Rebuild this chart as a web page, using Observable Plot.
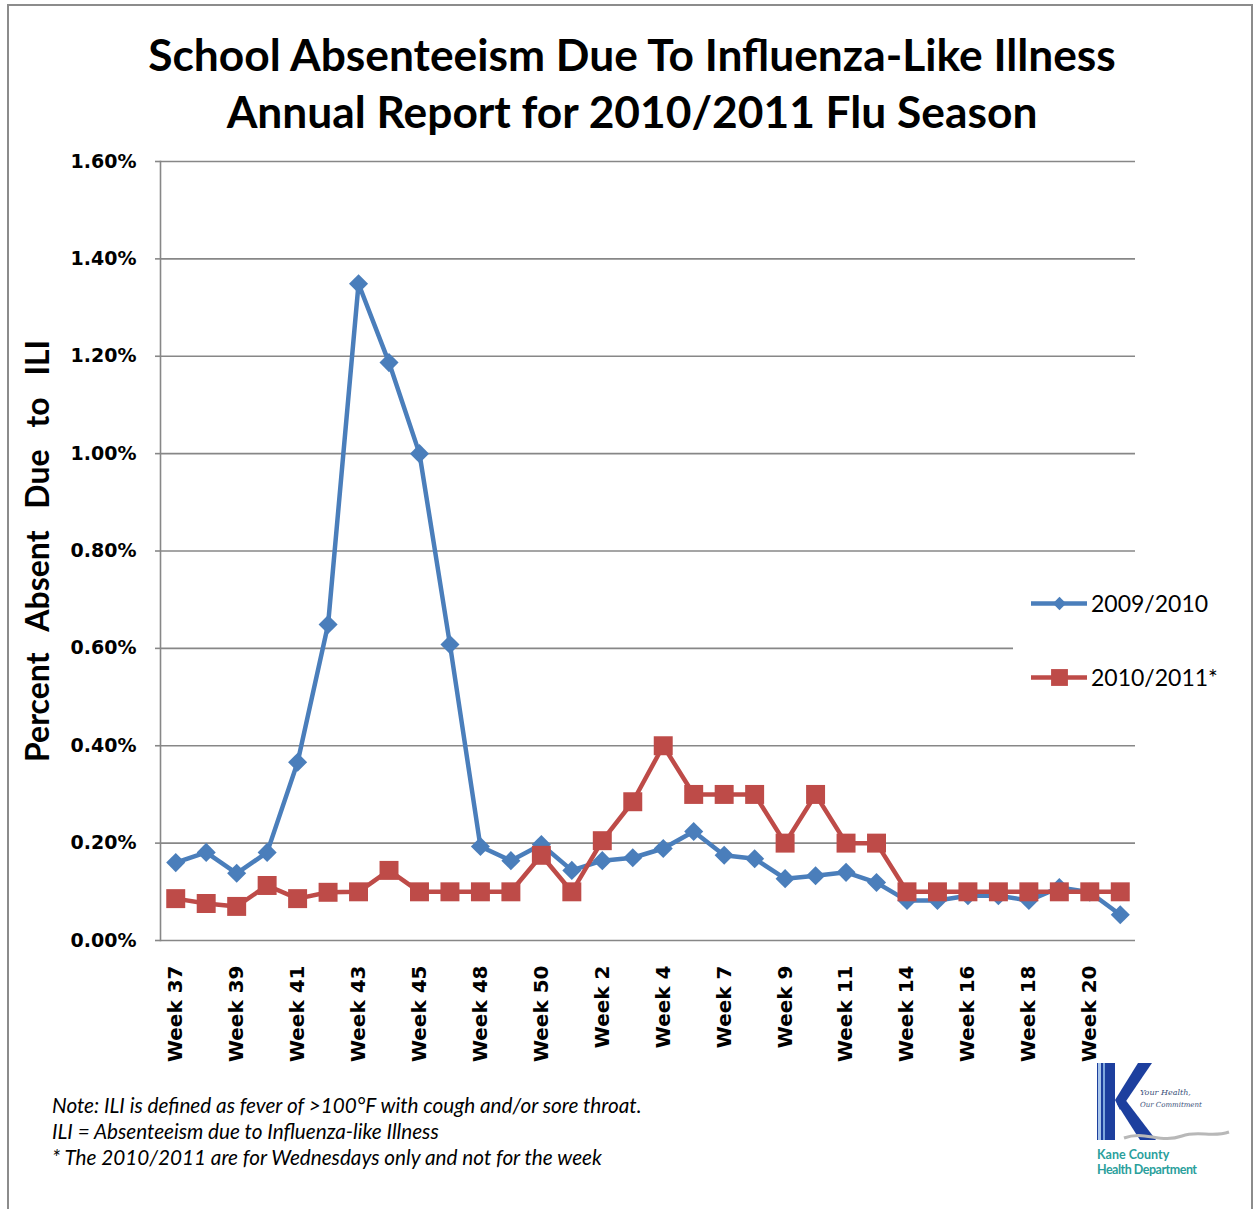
<!DOCTYPE html>
<html>
<head>
<meta charset="utf-8">
<script src="https://cdn.jsdelivr.net/npm/d3@7"></script>
<script src="https://cdn.jsdelivr.net/npm/@observablehq/plot@0.6"></script>
<style>
  html, body { margin: 0; padding: 0; background: #fff; }
  #page { position: relative; width: 1255px; height: 1209px; overflow: hidden; background: #fff; }
  #border { position: absolute; left: 7px; top: 4px; width: 1246px; height: 1300px; border: 2px solid #8c8c8c; box-sizing: border-box; }
  .title { position: absolute; left: 0; width: 1264px; text-align: center; font-family: Lato, sans-serif; font-weight: 700; color: #000; line-height: 1; white-space: nowrap; }
  #chart { position: absolute; left: 0; top: 140px; }
  #ytitle { position: absolute; font-family: Lato, sans-serif; font-weight: 700; font-size: 32px; line-height: 1; white-space: nowrap; transform-origin: 0 0; }
  #legend { position: absolute; left: 1013px; top: 566px; width: 232px; height: 150px; background: #fff; }
  .lrow { position: absolute; left: 18px; height: 30px; display: flex; align-items: center; font-family: Lato, sans-serif; font-size: 23px; color: #000; white-space: nowrap; }
  .lrow svg { margin-right: 4px; }
  .note { position: absolute; left: 52px; font-family: Lato, sans-serif; font-style: italic; font-size: 17px; line-height: 1; white-space: nowrap; color: #000; }
  #logo { position: absolute; left: 1090px; top: 1058px; }
</style>
</head>
<body>
<div id="page">
  <div id="border"></div>
  <div class="title" id="t1">School Absenteeism Due To Influenza-Like Illness</div>
  <div class="title" id="t2">Annual Report for 2010/2011 Flu Season</div>
  <div id="chart"></div>
  <div id="ytitle">Percent Absent Due to ILI</div>
  <div id="legend"></div>
  <div class="note" id="n1">Note: ILI is defined as fever of &gt;100°F with cough and/or sore throat.</div>
  <div class="note" id="n2">ILI = Absenteeism due to Influenza-like Illness</div>
  <div class="note" id="n3">* The 2010/2011 are for Wednesdays only and not for the week</div>
  <svg id="logo" width="150" height="125" viewBox="0 0 150 125">
    <rect x="7" y="5" width="18" height="77" fill="#1d3f9e"/>
    <rect x="8" y="5" width="3" height="77" fill="#a9c6ea"/>
    <rect x="13" y="5" width="2" height="77" fill="#7fa8de"/>
    <polygon points="25,42 48,5 62,5 30,52" fill="#1d3f9e"/>
    <polygon points="27,46 34,40 66,82 50,82" fill="#1d3f9e"/>
    <text x="50" y="37" font-family="DejaVu Serif" font-style="italic" font-size="8" fill="#3a4f7a">Your Health,</text>
    <text x="50" y="49" font-family="DejaVu Serif" font-style="italic" font-size="7" fill="#3a4f7a">Our Commitment</text>
    <path d="M34,80 C55,72 70,86 92,78 C108,72 122,80 139,74" fill="none" stroke="#b8b8b8" stroke-width="3"/>
    <text x="7" y="101" font-family="Lato" font-weight="700" font-size="12.5" fill="#2a9f9c">Kane County</text>
    <text x="7" y="116" font-family="Lato" font-weight="700" font-size="12.5" fill="#2a9f9c" textLength="100">Health Department</text>
  </svg>
</div>
<script>
// ---- data ----
const weeks = ["Week 37","Week 38","Week 39","Week 40","Week 41","Week 42","Week 43","Week 44","Week 45","Week 46",
  "Week 48","Week 49","Week 50","Week 51","Week 2","Week 3","Week 4","Week 5","Week 7","Week 8","Week 9","Week 10",
  "Week 11","Week 12","Week 14","Week 15","Week 16","Week 17","Week 18","Week 19","Week 20","Week 21"];
const season2009 = [0.160,0.181,0.138,0.181,0.366,0.649,1.349,1.187,1.000,0.608,
  0.193,0.164,0.197,0.144,0.164,0.170,0.189,0.224,0.175,0.168,0.127,0.133,
  0.140,0.119,0.082,0.082,0.092,0.092,0.082,0.109,0.099,0.053];
const season2010 = [0.086,0.076,0.070,0.113,0.086,0.099,0.100,0.144,0.100,0.100,
  0.100,0.100,0.175,0.100,0.205,0.285,0.400,0.300,0.300,0.300,0.200,0.300,
  0.200,0.200,0.100,0.100,0.100,0.100,0.100,0.100,0.100,0.100];
const seriesNames = ["2009/2010", "2010/2011*"];
const seriesColors = ["#4A7EBB", "#BE4B48"];
const seriesSymbols = ["diamond2", "square"];
const yTicks = [0, 0.2, 0.4, 0.6, 0.8, 1.0, 1.2, 1.4, 1.6];
const xTickLabels = ["Week 37","Week 39","Week 41","Week 43","Week 45","Week 48","Week 50","Week 2","Week 4",
  "Week 7","Week 9","Week 11","Week 14","Week 16","Week 18","Week 20"];

const rows = [];
[season2009, season2010].forEach((vals, s) => vals.forEach((v, i) => rows.push({week: weeks[i], value: v, series: seriesNames[s]})));
const s1 = rows.filter(d => d.series === seriesNames[0]);
const s2 = rows.filter(d => d.series === seriesNames[1]);

const grid = "#878787";
const chart = Plot.plot({
  width: 1255,
  height: 930,
  marginLeft: 160,
  marginRight: 120,
  marginTop: 21,
  marginBottom: 130,
  style: {fontFamily: "DejaVu Sans", background: "transparent", color: "#000"},
  x: {type: "point", domain: weeks, padding: 0.5, round: false, axis: null},
  y: {domain: [0, 1.6], axis: null},
  marks: [
    Plot.gridY(yTicks, {stroke: grid, strokeOpacity: 1, strokeWidth: 1.6}),
    Plot.frame({anchor: "left", stroke: grid, strokeWidth: 1.6}),
    Plot.axisY(yTicks, {label: null, tickFormat: d => d.toFixed(2) + "%", tickSize: 5, tickPadding: 19, fontSize: 19, fontWeight: "bold", stroke: grid, strokeWidth: 1.6, fill: "#000"}),
    Plot.axisX(xTickLabels, {label: null, tickRotate: -90, tickSize: 0, tickPadding: 25, fontSize: 20, fontWeight: "bold", fill: "#000"}),
    Plot.line(s1, {x: "week", y: "value", stroke: seriesColors[0], strokeWidth: 4.5, strokeLinejoin: "round"}),
    Plot.dot(s1, {x: "week", y: "value", symbol: seriesSymbols[0], r: 8.6, fill: seriesColors[0], stroke: "none"}),
    Plot.line(s2, {x: "week", y: "value", stroke: seriesColors[1], strokeWidth: 4.5, strokeLinejoin: "round"}),
    Plot.dot(s2, {x: "week", y: "value", symbol: seriesSymbols[1], r: 10.7, fill: seriesColors[1], stroke: "none"})
  ]
});
document.getElementById("chart").append(chart);

// legend
const legend = document.getElementById("legend");
const legendTops = [22, 96];
seriesNames.forEach((name, i) => {
  const row = document.createElement("div");
  row.className = "lrow";
  row.style.top = legendTops[i] + "px";
  const sw = Plot.plot({
    width: 56, height: 30, margin: 0,
    x: {domain: [0, 1], axis: null}, y: {domain: [0, 1], axis: null},
    style: {background: "transparent"},
    marks: [
      Plot.ruleY([0.5], {x1: 0, x2: 1, stroke: seriesColors[i], strokeWidth: 4.5}),
      Plot.dot([0.5], {x: d => d, y: 0.5, symbol: seriesSymbols[i], r: i === 0 ? 6 : 9.5, fill: seriesColors[i]})
    ]
  });
  row.append(sw);
  const sp = document.createElement("span");
  sp.textContent = name;
  row.append(sp);
  legend.append(row);
});

// fit titles
function fitFont(el, target) {
  const fs = parseFloat(getComputedStyle(el).fontSize);
  const r = document.createRange(); r.selectNodeContents(el);
  const w = r.getBoundingClientRect().width;
  return fs * target / w;
}
const t1 = document.getElementById("t1"), t2 = document.getElementById("t2");
t1.style.fontSize = "44px"; t2.style.fontSize = "44px";
const tfs = fitFont(t1, 968);
t1.style.fontSize = tfs + "px"; t2.style.fontSize = tfs + "px";
t1.style.top = (71 - 0.887 * tfs) + "px";
t2.style.top = (128 - 0.887 * tfs) + "px";

// y title: rotated, fitted via word spacing
const yt = document.getElementById("ytitle");
{
  const w0 = yt.getBoundingClientRect().width;
  yt.style.wordSpacing = ((422 - w0) / 4) + "px";
  const fs = 32;
  yt.style.left = (49 - 0.887 * fs) + "px";
  yt.style.top = (762) + "px";
  yt.style.transform = "rotate(-90deg)";
}
// notes
const n1 = document.getElementById("n1"), n2 = document.getElementById("n2"), n3 = document.getElementById("n3");
const nfs = fitFont(n1, 590);
[n1, n2, n3].forEach((el, i) => {
  el.style.fontSize = nfs + "px";
  el.style.top = (1113 + 26 * i - 0.887 * nfs) + "px";
});
</script>
</body>
</html>
